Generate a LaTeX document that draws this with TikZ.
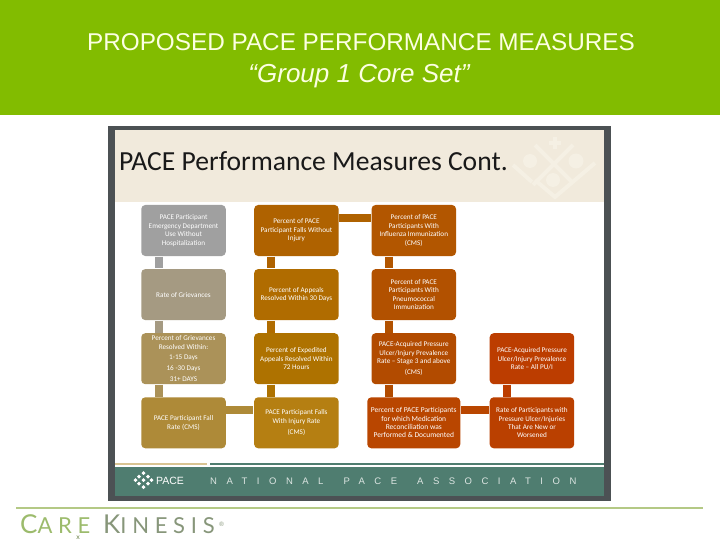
\documentclass[tikz,border=0pt]{standalone}
\usepackage{fontspec}
\setmainfont{Carlito}
\newfontfamily\titlefont{Liberation Sans}
\newfontfamily\footfont[LetterSpace=100]{Liberation Sans}
\newfontfamily\logofont[LetterSpace=26]{Lato}
\usetikzlibrary{arrows.meta, positioning, shapes.geometric}
\definecolor{bandgreen}{HTML}{82BC00}
\definecolor{titlecream}{HTML}{FCFFE2}
\definecolor{framegray}{HTML}{4C5154}
\definecolor{headbeige}{HTML}{F1EADC}
\definecolor{markbeige}{HTML}{F5F0E4}
\definecolor{footteal}{HTML}{4F7D70}
\definecolor{tanline}{HTML}{D9C493}
\definecolor{rulegreen}{HTML}{B4C985}
\definecolor{logogreen}{HTML}{9CBB6C}
\definecolor{logogray}{HTML}{87967A}
\definecolor{cA}{HTML}{A0A0A0}
\definecolor{cB}{HTML}{A59A82}
\definecolor{cC}{HTML}{AB9259}
\definecolor{cD}{HTML}{AE8A38}
\definecolor{cE}{HTML}{AF6200}
\definecolor{cF}{HTML}{B06C00}
\definecolor{cG}{HTML}{AE7200}
\definecolor{cH}{HTML}{B57F12}
\definecolor{cI}{HTML}{B25600}
\definecolor{cJ}{HTML}{B25100}
\definecolor{cK}{HTML}{B24B00}
\definecolor{cL}{HTML}{B94600}
\definecolor{cM}{HTML}{BC3D00}
\definecolor{cN}{HTML}{BA4000}

\begin{document}
\begin{tikzpicture}[
    x=1pt, y=-1pt,
    block/.style={minimum width=84.5pt, minimum height=51pt, inner sep=0pt,
                  rounded corners=4pt, align=center, text=white,
                  font=\fontsize{7.2}{8.4}\selectfont},
    link/.style={line width=8pt, shorten >=0.5pt, shorten <=0.5pt},
    crest/.style={line width=4pt, markbeige},
]
  \useasboundingbox (0,0) rectangle (720,540);
  \fill[bandgreen] (0,0) rectangle (720,115);
  \fill[framegray] (108,126) rectangle (611,501);
  \fill[white] (115,130) rectangle (604,467);
  \fill[headbeige] (115,130) rectangle (604,202);
  \fill[footteal] (115,467) rectangle (604,496);
  \fill[tanline] (115,463) rectangle (207,465);
  \fill[footteal] (210,463) rectangle (604,465);

  \draw[crest] (535,145) -- (573,183);
  \draw[crest] (573,145) -- (533,185);
  \draw[crest] (513,165) -- (532,182);
  \draw[crest] (535,180) -- (555,197) -- (595,163);
  \draw[crest] (549,143) -- (561,143);
  \draw[crest] (555,137) -- (555,149);
  \fill[markbeige] (530,161) circle (7);
  \fill[markbeige] (576,161) circle (7.5);
  \fill[markbeige] (553,180) circle (7);

  \node[text=titlecream, font=\titlefont\fontsize{24.3}{24}\selectfont] (title) at (361,42) {PROPOSED PACE PERFORMANCE MEASURES};
  \node[text=titlecream, font=\titlefont\itshape\fontsize{26}{26}\selectfont] (subtitle) at (359,76) {“Group 1 Core Set”};
  \node[anchor=west, inner sep=0pt, text=black!90, font=\fontsize{27.6}{28}\selectfont] (head) at (119,161) {PACE Performance Measures Cont.};

  \node[block, fill=cA] (edvisits) at (183.5,230.5) {PACE Participant\\Emergency Department\\Use Without\\Hospitalization};
  \node[block, fill=cB, below=12.7pt of edvisits] (grievrate) {Rate of Grievances};
  \node[block, fill=cC, below=12.7pt of grievrate] (grievpct) {Percent of Grievances\\Resolved Within:\\[2.5pt]1-15 Days\\[2.5pt]16 -30 Days\\[2.5pt]31+ DAYS};
  \node[block, fill=cD, below=12.7pt of grievpct] (fallrate) {PACE Participant Fall\\Rate (CMS)};

  \node[block, fill=cE, right=28pt of edvisits] (falls) {Percent of PACE\\Participant Falls Without\\Injury};
  \node[block, fill=cF, below=12.7pt of falls] (appeals) {Percent of Appeals\\Resolved Within 30 Days};
  \node[block, fill=cG, below=12.7pt of appeals] (expedited) {Percent of Expedited\\Appeals Resolved Within\\72 Hours};
  \node[block, fill=cH, below=12.7pt of expedited] (injuryrate) {PACE Participant Falls\\With Injury Rate\\[3pt](CMS)};

  \node[block, fill=cI, right=32.5pt of falls] (influenza) {Percent of PACE\\Participants With\\Influenza Immunization\\(CMS)};
  \node[block, fill=cJ, below=12.7pt of influenza] (pneumo) {Percent of PACE\\Participants With\\Pneumococcal\\Immunization};
  \node[block, fill=cK, below=12.7pt of pneumo] (ulcerthree) {PACE-Acquired Pressure\\Ulcer/Injury Prevalence\\Rate – Stage 3 and above\\[3pt](CMS)};
  \node[block, fill=cL, below=12.7pt of ulcerthree, minimum width=93pt, font=\fontsize{7.5}{8.4}\selectfont] (medrec) {Percent of PACE Participants\\for which Medication\\Reconciliation was\\Performed \& Documented};

  \node[block, fill=cN, right=29pt of medrec] (ulcernew) {Rate of Participants with\\Pressure Ulcer/Injuries\\That Are New or\\Worsened};
  \node[block, fill=cM, above=12.7pt of ulcernew] (ulcerall) {PACE-Acquired Pressure\\Ulcer/Injury Prevalence\\Rate – All PU/I};

  \draw[link, cA] ([xshift=-25pt]edvisits.south) -- ([xshift=-25pt]grievrate.north);
  \draw[link, cB] ([xshift=-25pt]grievrate.south) -- ([xshift=-25pt]grievpct.north);
  \draw[link, cC] ([xshift=-25pt]grievpct.south) -- ([xshift=-25pt]fallrate.north);
  \draw[link, cD] ([yshift=13pt]fallrate.east) -- ([yshift=13pt]injuryrate.west);
  \draw[link, cE] ([xshift=-25pt]falls.south) -- ([xshift=-25pt]appeals.north);
  \draw[link, cF] ([xshift=-25pt]appeals.south) -- ([xshift=-25pt]expedited.north);
  \draw[link, cG] ([xshift=-25pt]expedited.south) -- ([xshift=-25pt]injuryrate.north);
  \draw[link, cE] ([yshift=12pt]falls.east) -- ([yshift=12pt]influenza.west);
  \draw[link, cI] ([xshift=-25pt]influenza.south) -- ([xshift=-25pt]pneumo.north);
  \draw[link, cJ] ([xshift=-25pt]pneumo.south) -- ([xshift=-25pt]ulcerthree.north);
  \draw[link, cK] ([xshift=-25pt]ulcerthree.south) -- ([xshift=-25pt]ulcerthree.south |- medrec.north);
  \draw[link, cL] ([yshift=13pt]medrec.east) -- ([yshift=13pt]ulcernew.west);
  \draw[link, cM] ([xshift=-25pt]ulcerall.south) -- ([xshift=-25pt]ulcernew.north);

  \foreach \px/\py in {143.5/473, 143.5/487, 135.5/480, 151.5/480, 143.5/480, 139/476.5, 148/476.5, 139/483.5, 148/483.5}
    \fill[white] (\px,\py-2) -- (\px+2,\py) -- (\px,\py+2) -- (\px-2,\py) -- cycle;
  \node[text=white, inner sep=0pt, font=\titlefont\fontsize{10.5}{11}\selectfont] (pacelogo) at (170,480.5) {PACE};
  \node[anchor=west, inner sep=0pt, text=white!80!footteal, font=\footfont\fontsize{9.5}{10}\selectfont] (assoc) at (210,481) {NATIONAL\hspace{20pt}PACE\hspace{20pt}ASSOCIATION};

  \draw[rulegreen, line width=1.5pt] (16,508) -- (703,508);
  \node[anchor=base west, inner sep=0pt, font=\logofont] (care) at (20,533) {\textcolor{logogreen}{\fontsize{26}{26}\selectfont C\fontsize{22}{22}\selectfont ARE}};
  \node[anchor=base west, inner sep=0pt, font=\logofont] (kinesis) at (103,533) {\textcolor{logogray}{\fontsize{26}{26}\selectfont K\fontsize{22}{22}\selectfont INESIS}};
  \node[anchor=base west, inner sep=0pt, text=logogray, font=\logofont\fontsize{6}{6}\selectfont] (regmark) at (219,526) {®};
  \node[inner sep=0pt, text=logogreen!70!black, font=\logofont\fontsize{7}{7}\selectfont] (rxmark) at (78,537.5) {x};
\end{tikzpicture}
\end{document}
